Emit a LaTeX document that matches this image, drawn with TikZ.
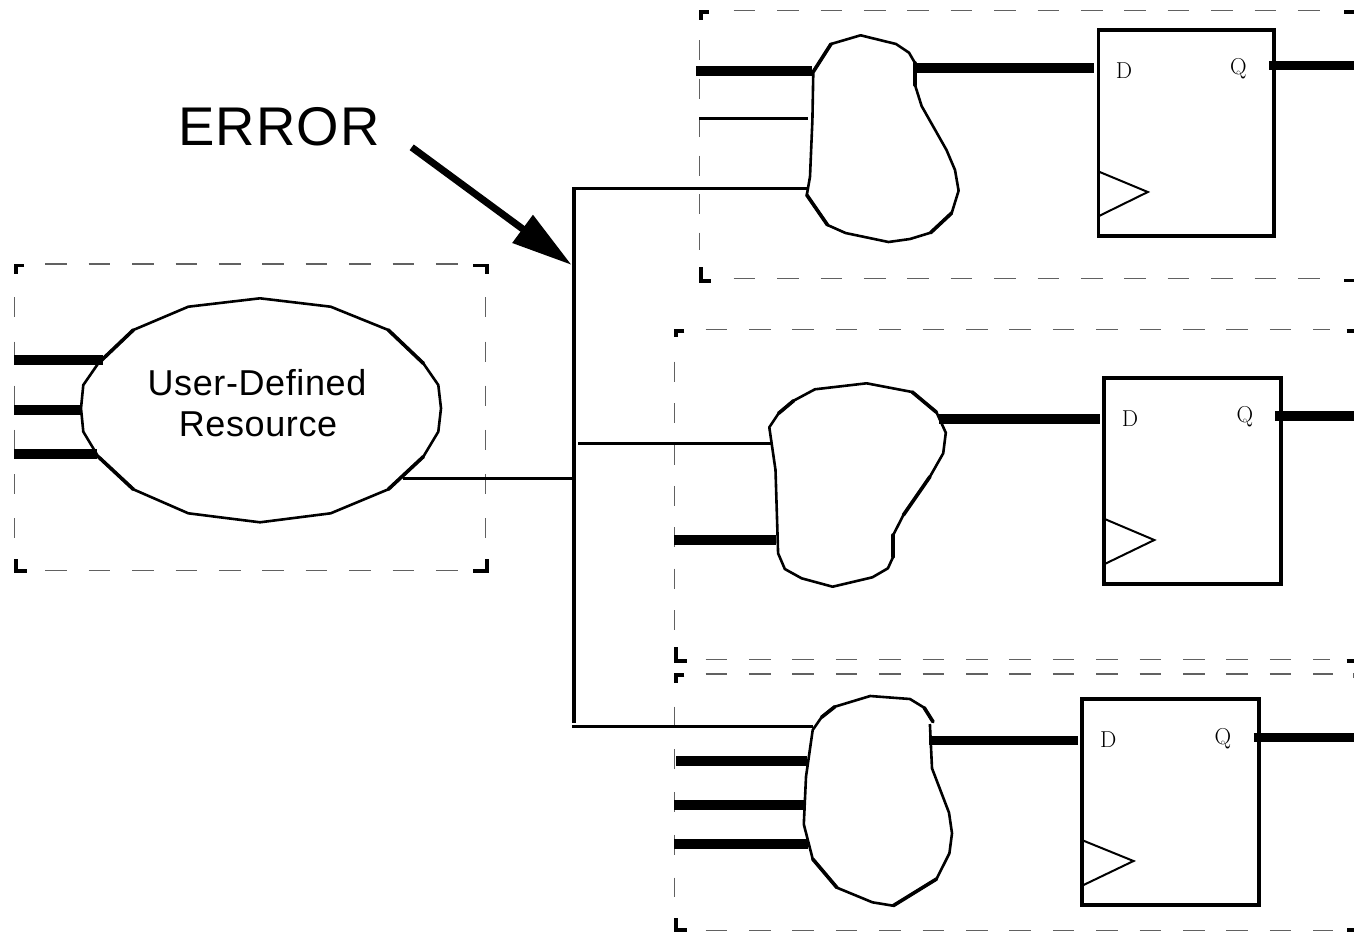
\documentclass[tikz,border=0pt]{standalone}
\usepackage{fontspec}
\setsansfont{Liberation Sans}
\usetikzlibrary{arrows.meta}
\tikzset{
  wirethick/.style={line width=10pt},
  wirethin/.style={line width=3pt},
  wirebus/.style={line width=4pt},
  blobline/.style={line width=2.6pt,line join=round},
  blobheavy/.style={line width=3.6pt,line cap=round},
  ffbox/.style={draw,line width=3.5pt,minimum width=#1,minimum height=206pt,inner sep=0pt,outer sep=0pt},
  clockline/.style={line width=2pt,line join=miter},
  framedash/.style={line width=1.3pt,black!62,dash pattern=on 21.6pt off 21.8pt},
  framedashv/.style={line width=1.3pt,black!62,dash pattern=on 20pt off #1},
  cornermark/.style={line width=3.6pt,line join=miter},
  pinlabel/.style={font=\rmfamily\fontsize{23}{23}\selectfont,inner sep=0pt},
  errarrow/.style={line width=7pt,-{Triangle[length=61pt 0 0,width=33pt 0 0]}},
}
\begin{document}
\begin{tikzpicture}[x=1pt,y=-1pt]
\useasboundingbox[fill=white] (0,0) rectangle (1354,932);

% ---------- dashed frames ----------
% left frame
\draw[framedash] (45.3,264) -- (470,264);
\draw[framedash] (45.3,570.7) -- (470,570.7);
\draw[framedashv=24.2pt] (14.5,297.3) -- (14.5,557);
\draw[framedashv=24.2pt] (485.7,297.3) -- (485.7,557);
\draw[cornermark] (24,265.5) -- (15.7,265.5) -- (15.7,274);
\draw[cornermark] (473.3,265.5) -- (487,265.5) -- (487,274);
\draw[cornermark] (15.7,559) -- (15.7,571.2) -- (26.7,571.2);
\draw[cornermark] (473.3,571.2) -- (487,571.2) -- (487,559);
% top frame
\draw[framedash] (733.7,10.7) -- (1325,10.7);
\draw[framedash] (733.7,278.7) -- (1325,278.7);
\draw[framedashv=18.5pt] (699.3,40) -- (699.3,250);
\draw[cornermark] (709,11.8) -- (700.8,11.8) -- (700.8,20);
\draw[cornermark] (700.9,267) -- (700.9,280.8) -- (711.4,280.8);
\draw[cornermark] (1344,11.8) -- (1354,11.8);
\draw[cornermark] (1344,280.5) -- (1354,280.5);
% middle frame
\draw[framedash] (705.6,329.3) -- (1330,329.3);
\draw[framedash] (705.6,659.3) -- (1330,659.3);
\draw[framedashv=21.4pt] (674.6,361.7) -- (674.6,630);
\draw[cornermark] (684.3,331) -- (675.8,331) -- (675.8,337.3);
\draw[cornermark] (675.8,647) -- (675.8,660.9) -- (687.4,660.9);
\draw[cornermark] (1346.7,331) -- (1354,331);
\draw[cornermark] (1346.7,660.8) -- (1354,660.8);
% bottom frame
\draw[framedash] (705.6,674) -- (1333,674);
\draw[framedash] (705.6,930.7) -- (1333,930.7);
\draw[framedashv=22.7pt] (674.6,706.7) -- (674.6,897);
\draw[cornermark] (684.3,675) -- (675.8,675) -- (675.8,682.7);
\draw[cornermark] (675.8,918) -- (675.8,930) -- (687.4,930);
\draw[cornermark] (1347,930) -- (1354,930);
\draw[line width=1.3pt,black!62] (1353.3,673) -- (1353.3,678);

% ---------- connector end points ----------
\coordinate (busTop) at (573.7,187);
\coordinate (busBot) at (573.7,723);
\coordinate (busOut) at (574,478);
\coordinate (busMid) at (578,443);
\coordinate (busLow) at (572,726);
\coordinate (resOut) at (403,478);
\coordinate (resInA) at (14,360);
\coordinate (resInAe) at (103,360);
\coordinate (resInB) at (14,410);
\coordinate (resInBe) at (81,410);
\coordinate (resInC) at (14,454);
\coordinate (resInCe) at (97,454);
\coordinate (errTail) at (411.7,147.3);
\coordinate (errTip) at (571.7,265);

\coordinate (aInA) at (696,71);
\coordinate (aInAe) at (812.4,71);
\coordinate (aInB) at (699,118.3);
\coordinate (aInBe) at (808,118.3);
\coordinate (aInC) at (572,188.5);
\coordinate (aInCe) at (807,188.5);
\coordinate (aOut) at (915,68);
\coordinate (aOute) at (1094,68);
\coordinate (aQ) at (1269,65.5);
\coordinate (aQe) at (1354,65.5);

\coordinate (bInA) at (770.6,443);
\coordinate (bInB) at (674,540);
\coordinate (bInBe) at (776.4,540);
\coordinate (bOut) at (938.8,419);
\coordinate (bOute) at (1100.3,419);
\coordinate (bQ) at (1275,415.7);
\coordinate (bQe) at (1354,415.7);

\coordinate (cInA) at (812.7,726);
\coordinate (cInB) at (676.4,761);
\coordinate (cInBe) at (806.9,761);
\coordinate (cInC) at (674,805);
\coordinate (cInCe) at (803.8,805);
\coordinate (cInD) at (674,844);
\coordinate (cInDe) at (808,844);
\coordinate (cOut) at (928.6,740.5);
\coordinate (cOute) at (1077.7,740.5);
\coordinate (cQ) at (1253.8,737);
\coordinate (cQe) at (1354,737);

% ---------- connectors ----------
\draw[wirethick] (resInA) -- (resInAe);
\draw[wirethick] (resInB) -- (resInBe);
\draw[wirethick] (resInC) -- (resInCe);
\draw[wirethin] (resOut) -- (busOut);
\draw[wirebus] (busTop) -- (busBot);
\draw[wirethin] (aInC) -- (aInCe);
\draw[wirethin] (busMid) -- (bInA);
\draw[wirethin] (busLow) -- (cInA);
\draw[wirethick] (aInA) -- (aInAe);
\draw[wirethin] (aInB) -- (aInBe);
\draw[wirethick] (aOut) -- (aOute);
\draw[wirethick,line width=9pt] (aQ) -- (aQe);
\draw[wirethick] (bInB) -- (bInBe);
\draw[wirethick] (bOut) -- (bOute);
\draw[wirethick] (bQ) -- (bQe);
\draw[wirethick] (cInB) -- (cInBe);
\draw[wirethick] (cInC) -- (cInCe);
\draw[wirethick] (cInD) -- (cInDe);
\draw[wirethick,line width=9.5pt] (cOut) -- (cOute);
\draw[wirethick,line width=9pt] (cQ) -- (cQe);
\draw[errarrow] (errTail) -- (errTip);

% ---------- resource ----------
\draw[blobline] (260,298.3) -- (330.7,306.7) -- (388.3,330) -- (423.3,363.3) -- (438.3,385) -- (441,408.3) -- (438.3,431.7) -- (423.3,456.7) -- (388.3,489.3) -- (330.7,513.3) -- (260,522.3) -- (188.3,513.3) -- (133.3,489.3) -- (98.3,456.7) -- (83.3,431.7) -- (81,408.3) -- (83.3,385) -- (98.3,363.3) -- (133.3,330) -- (188.3,306.7) -- cycle;
\draw[blobheavy] (98.3,363.3) -- (133.3,330);
\draw[blobheavy] (388.3,330) -- (423.3,363.3);
\draw[blobheavy] (423.3,456.7) -- (388.3,489.3);
\draw[blobheavy] (98.3,456.7) -- (133.3,489.3);
\node[anchor=base,inner sep=0pt,font=\sffamily\fontsize{36}{36}\selectfont\addfontfeatures{LetterSpace=1.7}] (resA) at (257,395.7) {User-Defined};
\node[anchor=base,inner sep=0pt,font=\sffamily\fontsize{36}{36}\selectfont\addfontfeatures{LetterSpace=1.7}] (resB) at (258,436.7) {Resource};
\node[anchor=base west,inner sep=0pt,font=\sffamily\fontsize{54.5}{54.5}\selectfont\addfontfeatures{LetterSpace=2.2}] (err) at (178,145.5) {ERROR};

% ---------- top logic cloud and flip-flop ----------
\draw[blobline] (813.3,71.7) -- (831,44) -- (860.6,35.3) -- (896,44) -- (909,52.7) -- (915,63) -- (915,85) -- (921.6,106) -- (946.5,150) -- (955,170) -- (958.6,190.7) -- (951.7,213) -- (930.6,232.7) -- (910,239) -- (888.5,242) -- (845.5,233) -- (827.5,225) -- (806.8,195) -- (810,176.7) -- (812.4,120) -- cycle;
\draw[blobheavy] (813.3,71.7) -- (831,44);
\draw[blobheavy] (915,63) -- (915,85);
\draw[blobheavy] (806.8,195) -- (827.5,225);
\draw[blobheavy] (951.7,213) -- (930.6,232.7);
\node[ffbox=175.8pt] (ffA) at (1186.3,133) {};
\node[pinlabel] (ffAd) at (1124,71) {D};
\node[pinlabel] (ffAq) at (1238.5,69) {Q};
\draw[clockline] (1099,171.7) -- (1147.8,192) -- (1099,216);

% ---------- middle logic cloud and flip-flop ----------
\draw[blobline] (769.3,427.3) -- (778.6,413.3) -- (793.6,400.7) -- (814.9,389.3) -- (866.6,383.3) -- (912.2,392) -- (936.5,412.3) -- (945.8,432.7) -- (943.2,453.3) -- (929.9,476.7) -- (903.4,515) -- (893.2,535) -- (893.2,556.7) -- (887.9,568.3) -- (872.4,577.3) -- (832.6,586.7) -- (801.6,578.3) -- (784.8,569) -- (778.1,553.3) -- (775.5,470) -- cycle;
\draw[blobheavy] (903.4,515) -- (929.9,476.7);
\draw[blobheavy] (893.2,535) -- (893.2,556.7);
\draw[blobheavy] (912.2,392) -- (936.5,412.3);
\draw[blobheavy] (778.6,413.3) -- (793.6,400.7);
\node[ffbox=176.7pt] (ffB) at (1192.55,481.15) {};
\node[pinlabel] (ffBd) at (1130,418.7) {D};
\node[pinlabel] (ffBq) at (1245,417) {Q};
\draw[clockline] (1104.7,519) -- (1154.3,540) -- (1104.7,564);

% ---------- bottom logic cloud and flip-flop ----------
\draw[blobline] (929.9,724) -- (932,768.3) -- (949,812.7) -- (952,833.3) -- (949.4,853.3) -- (936.5,879) -- (893.2,905.7) -- (872.4,902.3) -- (837,887.7) -- (812.7,859) -- (803.8,824.3) -- (806,776.7) -- (812.7,730) -- (821.5,717.3) -- (834.8,706.7) -- (870.2,696) -- (910,699) -- (924.2,707.7) -- (933,721.7);
\draw[blobheavy] (837,887.7) -- (812.7,859);
\draw[blobheavy] (893.2,905.7) -- (936.5,879);
\draw[blobheavy] (821.5,717.3) -- (834.8,706.7);
\draw[blobheavy] (924.2,707.7) -- (933,721.7);
\node[ffbox=176.9pt] (ffC) at (1170.65,802) {};
\node[pinlabel] (ffCd) at (1108.2,740) {D};
\node[pinlabel] (ffCq) at (1222.8,738.3) {Q};
\draw[clockline] (1083.5,840.7) -- (1133.5,861) -- (1083.5,885);
\end{tikzpicture}
\end{document}
